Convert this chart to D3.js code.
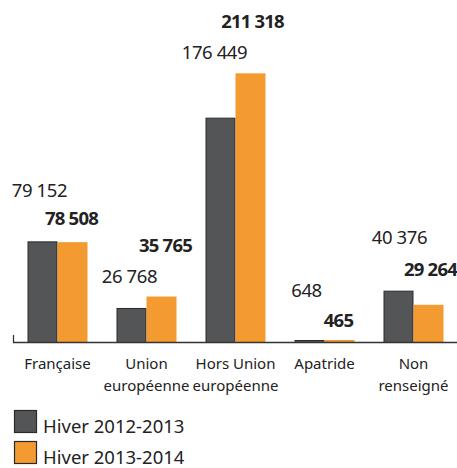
<!DOCTYPE html>
<html>
<head>
<meta charset="utf-8">
<script src="https://cdn.jsdelivr.net/npm/d3@7"></script>
<style>
  html, body { margin: 0; padding: 0; background: #fff; }
  svg { display: block; font-family: "Noto Sans", "Liberation Sans", sans-serif; }
</style>
</head>
<body>
<div id="chart"></div>
<script>
// Nationalité des clients — hiver 2012-2013 vs hiver 2013-2014
const categories = ["Française", "Union européenne", "Hors Union européenne", "Apatride", "Non renseigné"];
const catLines = [["Française"], ["Union", "européenne"], ["Hors Union", "européenne"], ["Apatride"], ["Non", "renseigné"]];
const seriesNames = ["Hiver 2012-2013", "Hiver 2013-2014"];
const hiver2012 = [79152, 26768, 176449, 648, 40376];
const hiver2013 = [78508, 35765, 211318, 465, 29264];

// décalages des étiquettes (placées à la main dans l'original), en px par rapport au haut de barre
const labelShift = [
  [[-3, -51], [-2, -32], [-6, -65], [-3, -51], [1, -53]],
  [[-1, -24], [4, -51], [2, -52], [-1, -21], [2, -35]]
];

const W = 457, H = 468;
const colors = ["#535557", "#F39A30"];
const fmt = d3.formatLocale({ decimal: ",", thousands: " ", grouping: [3], currency: ["", " €"] }).format(",d");

const svg = d3.select("#chart").append("svg").attr("width", W).attr("height", H);

const x0 = d3.scaleBand().domain(categories).range([13, 458]).paddingInner(0.326).paddingOuter(0.163);
const x1 = d3.scaleBand().domain(seriesNames).range([0, x0.bandwidth()]);
const y = d3.scaleLinear().domain([0, 269000]).range([342, 0]);

const series = [hiver2012, hiver2013];
const minH = 2; // les toutes petites barres restent visibles, comme dans Excel

// barres
series.forEach((vals, s) => {
  svg.append("g").selectAll("rect").data(vals).join("rect")
    .attr("x", (d, i) => x0(categories[i]) + x1(seriesNames[s]) + (s === 0 ? 0.5 : 0))
    .attr("width", x1.bandwidth() - (s === 0 ? 1 : 0))
    .attr("y", (d) => Math.min(y(d), y(0) - minH) + (s === 0 ? 0.5 : 0))
    .attr("height", (d) => Math.max(y(0) - y(d), minH))
    .attr("fill", colors[s])
    .attr("stroke", s === 0 ? "#2a2a2a" : "none")
    .attr("stroke-width", 1);
});

// axe
const axis = svg.append("g").attr("transform", `translate(0,${y(0)})`);
axis.append("line").attr("x1", 13).attr("x2", W).attr("y1", 0.5).attr("y2", 0.5)
  .attr("stroke", "#333").attr("stroke-width", 1.3);
axis.append("line").attr("x1", 13.5).attr("x2", 13.5).attr("y1", -7).attr("y2", 0.5)
  .attr("stroke", "#333").attr("stroke-width", 1.3);

// libellés des catégories
catLines.forEach((lines, i) => {
  const t = svg.append("text").attr("text-anchor", "middle").attr("fill", "#222")
    .style("font-size", "15px");
  lines.forEach((ln, k) => {
    t.append("tspan").attr("x", x0(categories[i]) + x0.bandwidth() / 2)
      .attr("y", 369 + k * 21.5).text(ln);
  });
});

// étiquettes de valeurs
series.forEach((vals, s) => {
  svg.append("g").selectAll("text").data(vals).join("text")
    .attr("text-anchor", "middle")
    .attr("x", (d, i) => x0(categories[i]) + x1(seriesNames[s]) + x1.bandwidth() / 2 + labelShift[s][i][0])
    .attr("y", (d, i) => y(d) + labelShift[s][i][1])
    .attr("dy", "0.36em")
    .attr("fill", "#222")
    .style("font-size", "18.5px")
    .style("font-weight", s === 1 ? "bold" : "normal")
    .style("letter-spacing", s === 1 ? "-0.8px" : "-0.4px")
    .text((d) => fmt(d));
});

// légende
const leg = svg.append("g");
seriesNames.forEach((name, s) => {
  const gy = 410 + s * 31;
  leg.append("rect").attr("x", 14.5).attr("y", gy + 0.5).attr("width", 22).attr("height", 22)
    .attr("fill", colors[s]).attr("stroke", "#2a2a2a").attr("stroke-width", 1.2);
  leg.append("text").attr("x", 43).attr("y", gy + 23).attr("fill", "#222")
    .style("font-size", "18.5px").text(name);
});
</script>
</body>
</html>
